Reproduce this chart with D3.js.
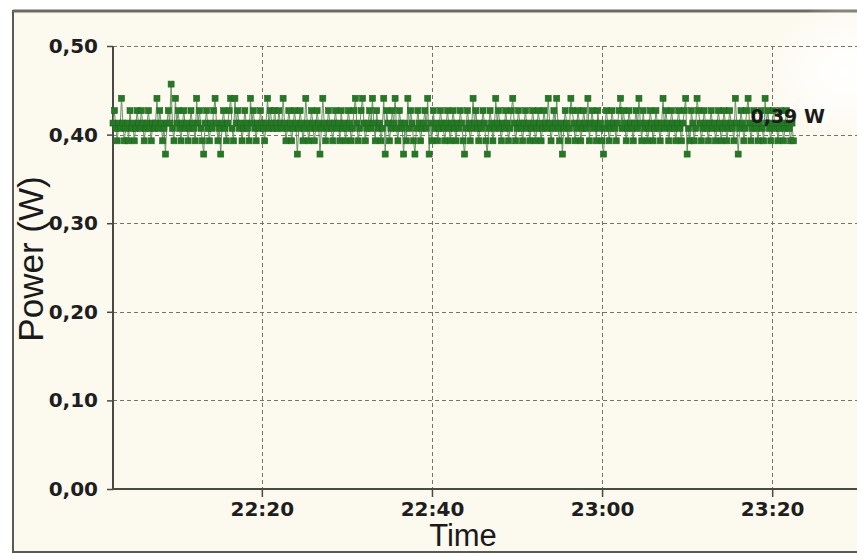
<!DOCTYPE html>
<html>
<head>
<meta charset="utf-8">
<script src="https://cdn.jsdelivr.net/npm/d3@7"></script>
<style>
html,body{margin:0;padding:0;background:#fff;}
svg{display:block;}
</style>
</head>
<body>
<svg id="chart" width="857" height="554"></svg>
<script>
// ---- data ----
const startTime = "22:02:30";      // first sample
const endTime = "23:31:30";        // right edge of the plot area
const sampleSeconds = 10;          // sampling interval
const powerValues = [
 .413,.427,.407,.393,.413,.407,.441,.413,.393,.407,
 .413,.393,.427,.407,.413,.393,.407,.427,.413,.407,
 .427,.413,.393,.407,.413,.427,.407,.393,.413,.407,
 .413,.441,.407,.427,.413,.393,.407,.378,.413,.427,
 .413,.457,.407,.393,.441,.413,.427,.407,.393,.413,
 .427,.407,.413,.393,.407,.427,.413,.407,.393,.441,
 .413,.427,.407,.393,.378,.413,.427,.407,.393,.413,
 .407,.427,.441,.413,.393,.407,.378,.413,.427,.407,
 .393,.413,.427,.441,.407,.393,.441,.413,.427,.407,
 .413,.393,.407,.427,.413,.407,.393,.441,.413,.427,
 .407,.393,.413,.407,.427,.413,.407,.393,.413,.441,
 .407,.427,.413,.407,.427,.413,.407,.427,.413,.407,
 .441,.413,.393,.407,.427,.413,.393,.407,.427,.413,
 .378,.407,.427,.413,.393,.407,.441,.413,.393,.407,
 .427,.413,.393,.407,.427,.413,.378,.407,.441,.413,
 .393,.407,.427,.413,.407,.393,.413,.427,.407,.413,
 .393,.427,.407,.413,.393,.407,.427,.413,.393,.407,
 .427,.441,.413,.393,.407,.427,.441,.413,.393,.407,
 .413,.427,.407,.441,.413,.393,.427,.407,.413,.393,
 .407,.441,.378,.427,.413,.393,.407,.427,.413,.441,
 .407,.393,.427,.413,.407,.378,.413,.393,.441,.407,
 .427,.413,.393,.378,.407,.427,.413,.393,.407,.413,
 .427,.407,.441,.378,.413,.393,.427,.407,.413,.393,
 .407,.427,.413,.407,.393,.413,.427,.407,.393,.413,
 .427,.407,.393,.413,.407,.427,.413,.393,.378,.407,
 .427,.413,.393,.407,.441,.413,.427,.407,.393,.413,
 .407,.427,.413,.393,.378,.407,.427,.413,.393,.407,
 .441,.413,.427,.407,.393,.413,.407,.427,.413,.393,
 .407,.427,.441,.413,.393,.407,.427,.413,.407,.393,
 .413,.427,.407,.413,.393,.407,.427,.413,.393,.407,
 .427,.413,.393,.407,.427,.413,.407,.441,.413,.393,
 .407,.427,.413,.441,.407,.393,.413,.378,.407,.427,
 .413,.393,.407,.441,.427,.413,.393,.407,.427,.413,
 .393,.407,.427,.413,.407,.441,.393,.413,.427,.407,
 .413,.393,.427,.407,.413,.393,.378,.407,.427,.413,
 .393,.407,.427,.413,.407,.393,.413,.427,.441,.407,
 .427,.413,.393,.407,.427,.413,.407,.393,.413,.427,
 .407,.441,.413,.393,.427,.407,.413,.393,.407,.427,
 .413,.393,.407,.427,.413,.407,.393,.413,.441,.407,
 .427,.413,.393,.407,.427,.413,.407,.393,.413,.427,
 .407,.393,.413,.427,.441,.378,.407,.393,.427,.413,
 .393,.407,.441,.427,.413,.393,.407,.427,.413,.407,
 .393,.413,.427,.407,.413,.393,.407,.427,.413,.393,
 .407,.427,.413,.393,.407,.427,.413,.407,.393,.441,
 .413,.378,.407,.427,.413,.393,.407,.427,.441,.413,
 .393,.407,.427,.413,.407,.393,.413,.427,.407,.393,
 .441,.413,.427,.407,.393,.413,.427,.407,.413,.393,
 .407,.427,.413,.393,.407,.427,.413,.407,.393,.413,
 .393
];
const xTickLabels = ["22:20", "22:40", "23:00", "23:20"];
const yTickValues = [0, 0.1, 0.2, 0.3, 0.4, 0.5];
const yDomain = [0, 0.5];
const xTitle = "Time";
const yTitle = "Power (W)";
const lastLabelUnit = " W";

// ---- setup ----
const svg = d3.select("#chart");
const W = 857, H = 554;
const plot = {left: 113, right: 870, top: 46, bottom: 489};

const parseT = d3.timeParse("%Y-%m-%d %H:%M:%S");
const parseTick = d3.timeParse("%Y-%m-%d %H:%M");
const day = "2020-01-01 ";
const t0 = parseT(day + startTime);
const t1 = parseT(day + endTime);

const data = powerValues.map((v, i) => ({
  t: new Date(t0.getTime() + i * sampleSeconds * 1000),
  v: v
}));

const x = d3.scaleTime().domain([t0, t1]).range([plot.left, plot.right]);
const y = d3.scaleLinear().domain(yDomain).range([plot.bottom, plot.top]);

const locale = d3.formatLocale({decimal: ",", thousands: ".", grouping: [3], currency: ["", ""]});
const fmtY = locale.format(".2f");
const fmtX = d3.timeFormat("%H:%M");

// background + frame
svg.append("rect").attr("x", 0).attr("y", 0).attr("width", W).attr("height", H).attr("fill", "#ffffff");
svg.append("rect").attr("x", 13).attr("y", 11).attr("width", W + 20).attr("height", 541)
  .attr("fill", "#fcf9ee").attr("stroke", "#5a5a55").attr("stroke-width", 2);
svg.append("line").attr("x1", 13).attr("x2", W).attr("y1", 11).attr("y2", 11)
  .attr("stroke", "#6b6b62").attr("stroke-width", 3);

// glare upper right
const defs = svg.append("defs");
const rg = defs.append("radialGradient").attr("id", "glare");
rg.append("stop").attr("offset", "0%").attr("stop-color", "#ffffff").attr("stop-opacity", 1);
rg.append("stop").attr("offset", "55%").attr("stop-color", "#ffffff").attr("stop-opacity", 0.6);
rg.append("stop").attr("offset", "100%").attr("stop-color", "#ffffff").attr("stop-opacity", 0);
svg.append("ellipse").attr("cx", 845).attr("cy", 72).attr("rx", 80).attr("ry", 70).attr("fill", "url(#glare)");

// grid
const xTicks = xTickLabels.map(s => parseTick(day + s));
const grid = svg.append("g").attr("stroke", "#74746c").attr("stroke-width", 1).attr("stroke-dasharray", "4,3");
grid.selectAll(".hg").data(yTickValues.filter(d => d > 0)).join("line")
  .attr("x1", plot.left).attr("x2", W)
  .attr("y1", d => Math.round(y(d)) + 0.5).attr("y2", d => Math.round(y(d)) + 0.5);
grid.selectAll(".vg").data(xTicks).join("line")
  .attr("x1", d => Math.round(x(d)) + 0.5).attr("x2", d => Math.round(x(d)) + 0.5)
  .attr("y1", plot.top).attr("y2", plot.bottom);

// axes
const yAxis = d3.axisLeft(y).tickValues(yTickValues).tickFormat(fmtY).tickSize(6).tickPadding(9);
const xAxis = d3.axisBottom(x).tickValues(xTicks).tickFormat(fmtX).tickSize(8).tickPadding(5);

const gy = svg.append("g").attr("transform", `translate(${plot.left},0)`).call(yAxis);
gy.select(".domain").attr("d", `M0,${plot.top}V${plot.bottom}`);
const gx = svg.append("g").attr("transform", `translate(0,${plot.bottom})`).call(xAxis);
gx.select(".domain").attr("d", `M${plot.left},0H${W + 5}`);

[gy, gx].forEach(g => {
  g.select(".domain").attr("stroke", "#4a4a45").attr("stroke-width", 2);
  g.selectAll(".tick line").attr("stroke", "#4a4a45").attr("stroke-width", 1.5);
  g.selectAll(".tick text").attr("fill", "#1e1e1e").attr("font-family", "'DejaVu Sans', Verdana, sans-serif")
    .attr("font-weight", "bold").attr("font-size", 20);
});
gx.selectAll(".tick text").attr("dy", "0.71em");

// series: line + square markers
const line = d3.line().x(d => x(d.t)).y(d => y(d.v));
svg.append("path").datum(data).attr("d", line)
  .attr("fill", "none").attr("stroke", "#6a946a").attr("stroke-width", 1);
svg.append("g").selectAll("rect").data(data).join("rect")
  .attr("x", d => x(d.t) - 3).attr("y", d => y(d.v) - 3)
  .attr("width", 6).attr("height", 6)
  .attr("fill", "#1f7d1f").attr("stroke", "#2c5e2c").attr("stroke-width", 0.6);

// last value label
const last = data[data.length - 1];
svg.append("text").attr("x", x(last.t) - 43).attr("y", y(last.v) - 18)
  .attr("font-family", "'DejaVu Sans', Verdana, sans-serif").attr("font-weight", "bold")
  .attr("font-size", 19).attr("fill", "#1a1a1a")
  .text(fmtY(last.v) + lastLabelUnit);

// axis titles
svg.append("text").attr("x", 463).attr("y", 546).attr("text-anchor", "middle")
  .attr("font-family", "'Liberation Sans', Arial, sans-serif").attr("font-size", 31).attr("fill", "#1a1a1a")
  .text(xTitle);
svg.append("text").attr("transform", "translate(43,259) rotate(-90)").attr("text-anchor", "middle")
  .attr("font-family", "'Liberation Sans', Arial, sans-serif").attr("font-size", 35).attr("fill", "#1a1a1a")
  .text(yTitle);
</script>
</body>
</html>
